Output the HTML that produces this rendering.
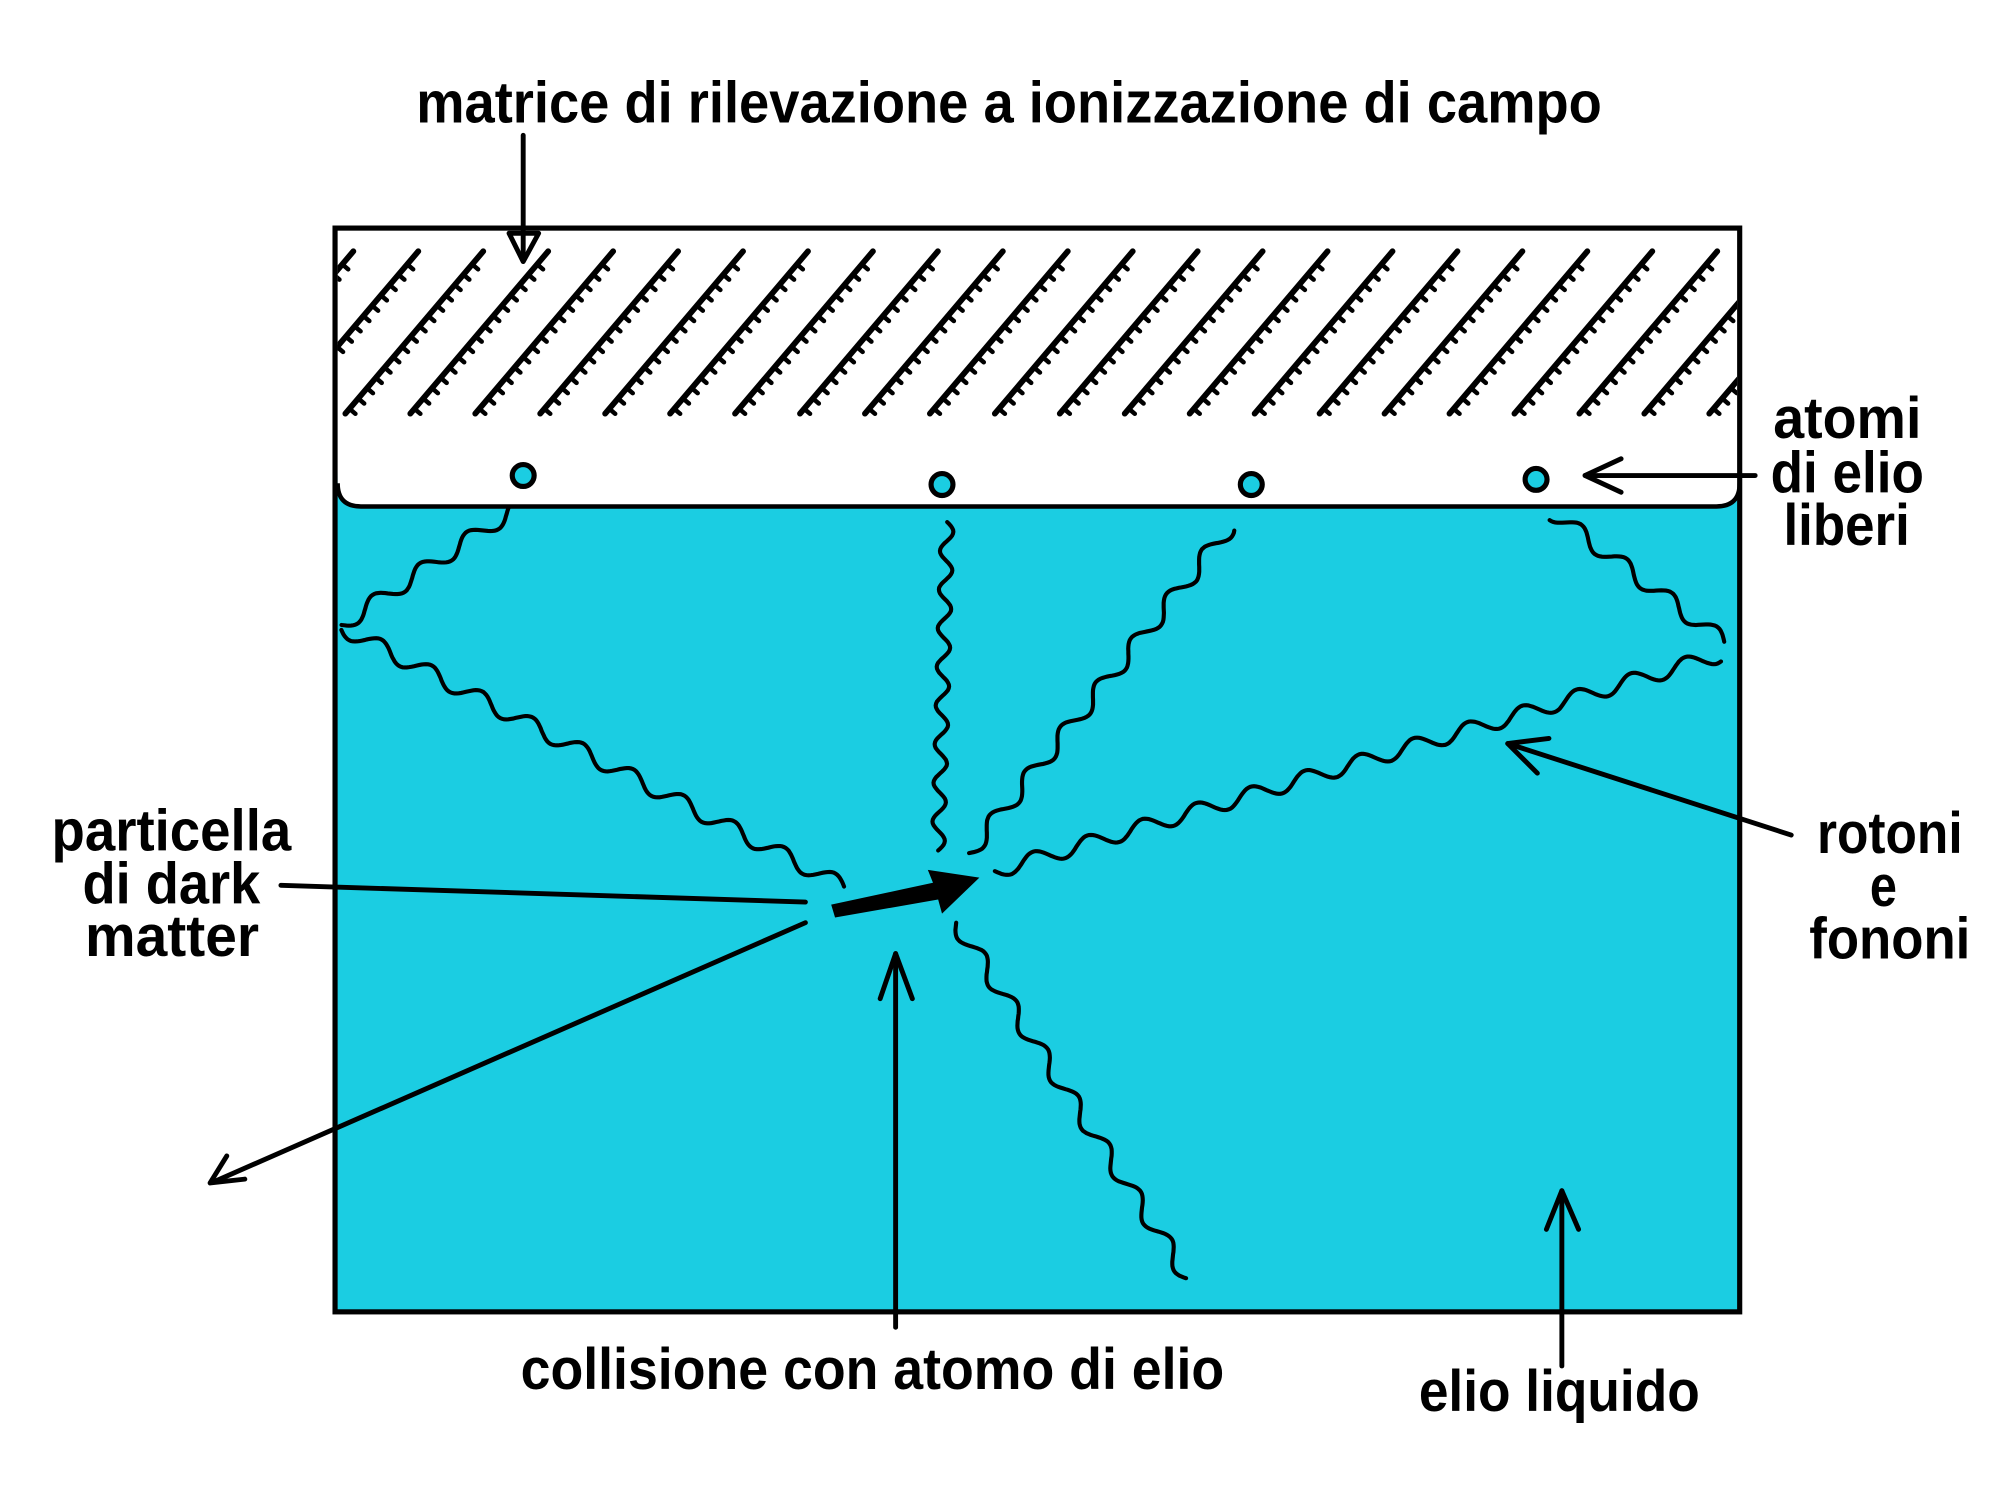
<!DOCTYPE html>
<html><head><meta charset="utf-8"><style>
html,body{margin:0;padding:0;background:#fff}
svg{display:block}
text{font-family:"Liberation Sans Narrow","Liberation Sans",sans-serif;font-weight:bold;font-size:45px;fill:#000}
</style></head><body>
<svg id="s" width="2000" height="1500" viewBox="0 0 1552 1164" preserveAspectRatio="none" xmlns="http://www.w3.org/2000/svg">
<defs>
<clipPath id="bc"><rect x="262" y="179" width="1086" height="214"/></clipPath>
</defs>
<rect x="260" y="177" width="1090" height="841" fill="#1bcde2"/>
<path d="M260 177 H1350 V375 Q1350 393 1332 393 H280 Q262 393 262 375 Z" fill="#fff"/>
<path d="M262 375 Q262 393 280 393 H1332 Q1350 393 1350 375" fill="none" stroke="#000" stroke-width="3.5"/>
<g id="hatch" clip-path="url(#bc)"></g>
<rect x="260" y="177" width="1090" height="841" fill="none" stroke="#000" stroke-width="4"/>
<g fill="#1bcde2" stroke="#000" stroke-width="4">
<circle cx="406" cy="369" r="8.5"/><circle cx="731" cy="376" r="8.5"/><circle cx="971" cy="376" r="8.5"/><circle cx="1192" cy="372" r="8.5"/>
</g>
<g id="waves" fill="none" stroke="#000" stroke-width="3.2" stroke-linecap="round"></g>
<g fill="none" stroke="#000" stroke-width="3.8" stroke-linecap="round" stroke-linejoin="round">
<line x1="218" y1="687" x2="625" y2="700"/>
<line x1="625" y1="716" x2="166" y2="917"/>
<path d="M176 897 L163 918 L190 915"/>
<line x1="695" y1="1030" x2="695" y2="740"/>
<path d="M683 775 L695 740 L708 775"/>
<line x1="1212" y1="1060" x2="1212" y2="924"/>
<path d="M1200 954 L1212 924 L1225 954"/>
<line x1="1390" y1="648" x2="1170" y2="577"/>
<path d="M1193 600 L1170 577 L1202 573"/>
<line x1="1362" y1="369" x2="1230" y2="369"/>
<path d="M1258 356 L1230 369 L1258 382"/>
<line x1="406" y1="105" x2="406" y2="200"/>
<path d="M395 181 L406 203 L418 181 Z"/>
</g>
<path d="M645 702 L724 685 L720 675 L760 681 L731 709 L728 698 L648 712 Z" fill="#000"/>
<text x="323" y="95" textLength="920" lengthAdjust="spacingAndGlyphs">matrice di rilevazione a ionizzazione di campo</text>
<text x="1376" y="340" textLength="115" lengthAdjust="spacingAndGlyphs">atomi</text>
<text x="1374" y="382" textLength="119" lengthAdjust="spacingAndGlyphs">di elio</text>
<text x="1384" y="423" textLength="98" lengthAdjust="spacingAndGlyphs">liberi</text>
<text x="40" y="660" textLength="186" lengthAdjust="spacingAndGlyphs">particella</text>
<text x="64" y="701" textLength="138" lengthAdjust="spacingAndGlyphs">di dark</text>
<text x="66" y="742" textLength="135" lengthAdjust="spacingAndGlyphs">matter</text>
<text x="1410" y="662" textLength="113" lengthAdjust="spacingAndGlyphs">rotoni</text>
<text x="1451" y="703" textLength="21" lengthAdjust="spacingAndGlyphs">e</text>
<text x="1404" y="744" textLength="125" lengthAdjust="spacingAndGlyphs">fononi</text>
<text x="404" y="1078" textLength="546" lengthAdjust="spacingAndGlyphs">collisione con atomo di elio</text>
<text x="1101" y="1095" textLength="218" lengthAdjust="spacingAndGlyphs">elio liquido</text>
</svg>
<script>
var NS="http://www.w3.org/2000/svg";
var h=document.getElementById("hatch");
var dx=107,dy=126,tl=Math.hypot(dx,dy),ux=dx/tl,uy=-dy/tl,px=-uy,py=ux;
for(var k=-3;k<23;k++){
 var bx=268+(k)*50.4,by=321;
 var tx=bx+dx,ty=by-dy;
 var d="M"+bx+" "+by+" L"+tx+" "+ty;
 var l=document.createElementNS(NS,"path");l.setAttribute("d",d);l.setAttribute("stroke","#000");l.setAttribute("stroke-width","4.5");l.setAttribute("stroke-linecap","round");l.setAttribute("fill","none");h.appendChild(l);
 var t="";
 for(var s=5;s<tl-4;s+=10.5){
   var x=bx+ux*s,y=by+uy*s;
   t+="M"+x.toFixed(1)+" "+y.toFixed(1)+" l"+(px*6).toFixed(1)+" "+(py*6).toFixed(1)+" ";
 }
 var tt=document.createElementNS(NS,"path");tt.setAttribute("d",t);tt.setAttribute("stroke","#000");tt.setAttribute("stroke-width","3.5");tt.setAttribute("stroke-linecap","round");h.appendChild(tt);
}
var w=document.getElementById("waves");
function wave(x0,y0,x1,y1,amp,wl){
 var L=Math.hypot(x1-x0,y1-y0),ex=(x1-x0)/L,ey=(y1-y0)/L,nx=-ey,ny=ex,d="";
 for(var s=0;s<=L;s+=1.5){
  var o=amp*Math.sin(s/wl*2*Math.PI);
  d+=(s==0?"M":"L")+(x0+ex*s+nx*o).toFixed(1)+" "+(y0+ey*s+ny*o).toFixed(1);
 }
 var p=document.createElementNS(NS,"path");p.setAttribute("d",d);w.appendChild(p);
}
wave(655,688,265,487,6,44);
wave(265,485,398,396,6,44);
wave(728,660,735,405,5,30);
wave(752,662,955,408,6,44);
wave(772,676,1335,508,6,44);
wave(1338,498,1205,398,6,44);
wave(742,716,922,992,6,44);
</script>
</body></html>
